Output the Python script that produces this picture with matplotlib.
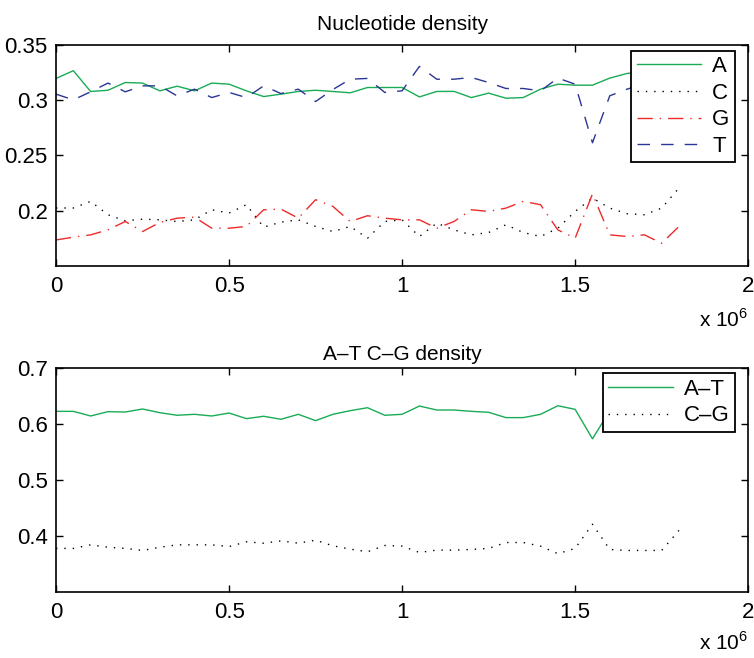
import matplotlib
matplotlib.use("Agg")
import matplotlib.pyplot as plt
import numpy as np
from matplotlib.ticker import FuncFormatter

plt.rcParams['font.family'] = ['Liberation Sans', 'DejaVu Sans']
plt.rcParams['mathtext.fontset'] = 'custom'
plt.rcParams['mathtext.rm'] = 'Liberation Sans'

positions = [i * 50000 for i in range(37)]

dens_A = [0.3197, 0.3267, 0.3079, 0.3090, 0.3160, 0.3155, 0.3085, 0.3127, 0.3085, 0.3155,
          0.3145, 0.3085, 0.3033, 0.3055, 0.3079, 0.3090, 0.3079, 0.3067, 0.3115, 0.3115,
          0.3115, 0.3030, 0.3079, 0.3080, 0.3024, 0.3064, 0.3018, 0.3024, 0.3100, 0.3145,
          0.3136, 0.3136, 0.3200, 0.3242, 0.3260, 0.3270, 0.3260]
dens_C = [0.2025, 0.2025, 0.2085, 0.1964, 0.1909, 0.1924, 0.1918, 0.1903, 0.1918, 0.2009,
          0.1979, 0.2055, 0.1852, 0.1897, 0.1918, 0.1858, 0.1812, 0.1858, 0.1752, 0.1903,
          0.1918, 0.1767, 0.1888, 0.1827, 0.1782, 0.1803, 0.1873, 0.1803, 0.1767, 0.1842,
          0.1994, 0.2115, 0.2024, 0.1973, 0.1964, 0.2024, 0.2206]
dens_G = [0.1736, 0.1761, 0.1782, 0.1827, 0.1903, 0.1812, 0.1894, 0.1933, 0.1942, 0.1842,
          0.1842, 0.1858, 0.2009, 0.2015, 0.1933, 0.2100, 0.2039, 0.1903, 0.1955, 0.1933,
          0.1918, 0.1918, 0.1842, 0.1903, 0.2009, 0.1994, 0.2024, 0.2085, 0.2055, 0.1827,
          0.1752, 0.2152, 0.1782, 0.1767, 0.1782, 0.1706, 0.1858]
dens_T = [0.3055, 0.3003, 0.3076, 0.3155, 0.3076, 0.3130, 0.3130, 0.3039, 0.3100, 0.3024,
          0.3070, 0.3024, 0.3130, 0.3060, 0.3100, 0.2988, 0.3097, 0.3190, 0.3197, 0.3070,
          0.3085, 0.3306, 0.3190, 0.3190, 0.3206, 0.3160, 0.3106, 0.3106, 0.3085, 0.3200,
          0.3145, 0.2615, 0.3040, 0.3100, 0.3150, 0.3180, 0.3200]

dens_AT = [0.6230, 0.6230, 0.6147, 0.6224, 0.6218, 0.6272, 0.6206, 0.6160, 0.6177, 0.6147,
           0.6200, 0.6100, 0.6142, 0.6088, 0.6177, 0.6064, 0.6177, 0.6242, 0.6295, 0.6160,
           0.6177, 0.6325, 0.6254, 0.6254, 0.6230, 0.6213, 0.6118, 0.6118, 0.6177, 0.6330,
           0.6266, 0.5739, 0.6240, 0.6250, 0.6280, 0.6300, 0.6300]
dens_CG = [0.3779, 0.3779, 0.3843, 0.3800, 0.3779, 0.3743, 0.3800, 0.3843, 0.3843, 0.3843,
           0.3813, 0.3897, 0.3873, 0.3914, 0.3873, 0.3926, 0.3826, 0.3767, 0.3719, 0.3832,
           0.3820, 0.3707, 0.3749, 0.3749, 0.3760, 0.3780, 0.3885, 0.3885, 0.3820, 0.3685,
           0.3780, 0.4212, 0.3760, 0.3743, 0.3743, 0.3743, 0.4102]

top_yticks = [0.2, 0.25, 0.3, 0.35]
bot_yticks = [0.4, 0.5, 0.6, 0.7]
xticks = [0, 500000, 1000000, 1500000, 2000000]

GREEN = '#1aab55'
BLUE = '#2b3596'
RED = '#ee2a2a'
BLACK = '#000000'

fig = plt.figure(figsize=(7.54, 6.58), dpi=100)
ax1 = fig.add_axes([0.0743, 0.5957, 0.918, 0.336])
ax2 = fig.add_axes([0.0743, 0.1003, 0.918, 0.340])

def fmt_num(v, pos=None):
    s = ('%.2f' % v).rstrip('0').rstrip('.')
    return s

def fmt_x(v, pos=None):
    return fmt_num(v / 1e6)

lw = 1.0
ax1.plot(positions, dens_A, color=GREEN, lw=lw, ls='-', label='A')
ax1.plot(positions, dens_C, color=BLACK, lw=lw, dashes=(1, 5), label='C')
ax1.plot(positions, dens_G, color=RED, lw=lw, dashes=(11, 5, 1, 5), label='G')
ax1.plot(positions, dens_T, color=BLUE, lw=lw, dashes=(9, 8), label='T')

ax2.plot(positions, dens_AT, color=GREEN, lw=lw, ls='-', label='A–T')
ax2.plot(positions, dens_CG, color=BLACK, lw=lw, dashes=(1, 5), label='C–G')

for ax, yl, yt, ty in [(ax1, (0.15, 0.35), top_yticks, -0.24),
                       (ax2, (0.3, 0.7), bot_yticks, -0.225)]:
    ax.set_xlim(0, 2000000)
    ax.set_ylim(*yl)
    ax.set_xticks(xticks)
    ax.set_yticks(yt)
    ax.xaxis.set_major_formatter(FuncFormatter(fmt_x))
    ax.yaxis.set_major_formatter(FuncFormatter(fmt_num))
    ax.tick_params(direction='in', top=True, right=True, length=5, width=1.0,
                   labelsize=16, colors='black')
    ax.tick_params(axis='y', pad=6)
    ax.tick_params(axis='x', pad=7)
    for sp in ax.spines.values():
        sp.set_linewidth(1.2)
    ax.text(1.0, ty, r'x 10$^{6}$', transform=ax.transAxes, ha='right',
            va='center', fontsize=15)

ax1.set_title('Nucleotide density', fontsize=15, pad=11)
ax2.set_title('A–T C–G density', fontsize=15, pad=6)

leg1 = ax1.legend(loc='upper right', bbox_to_anchor=(0.981, 0.974), borderaxespad=0,
                  fontsize=16, fancybox=False, framealpha=1, edgecolor='black',
                  handlelength=2.9, labelspacing=0.25, borderpad=0.25, handletextpad=0.5)
leg1.get_frame().set_linewidth(1.3)
leg2 = ax2.legend(loc='upper right', bbox_to_anchor=(0.981, 0.978), borderaxespad=0,
                  fontsize=16, fancybox=False, framealpha=1, edgecolor='black',
                  handlelength=2.9, labelspacing=0.25, borderpad=0.25, handletextpad=0.5)
leg2.get_frame().set_linewidth(1.3)

fig.savefig('out.png', dpi=100)
